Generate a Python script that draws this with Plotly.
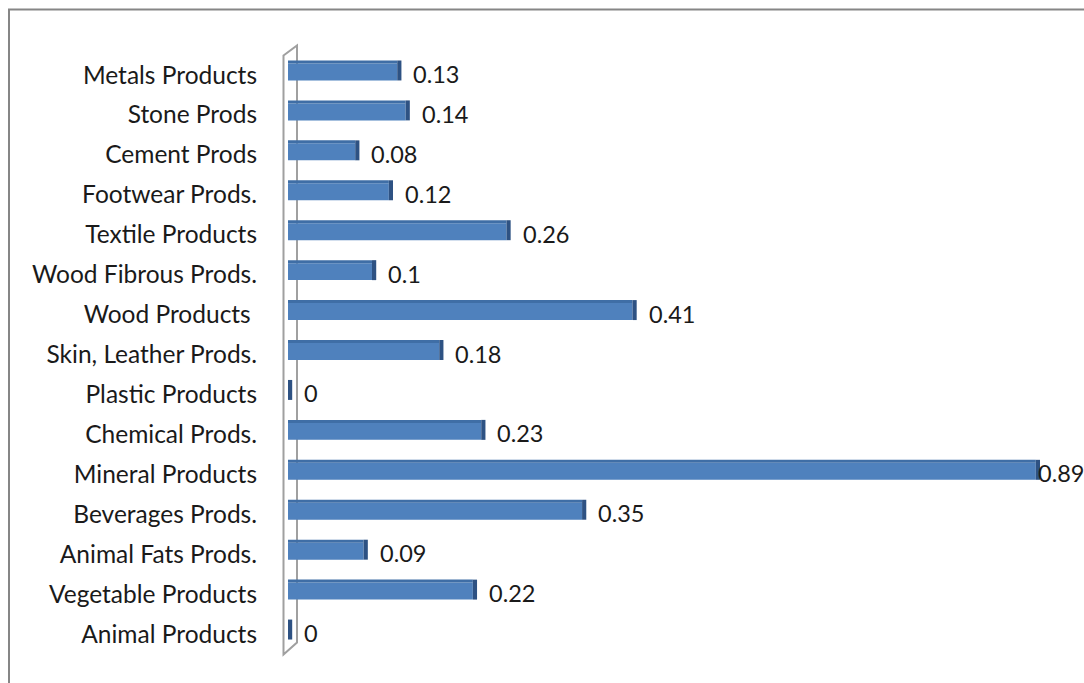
import plotly.graph_objects as go

categories = ["Animal Products", "Vegetable Products", "Animal Fats Prods.", "Beverages Prods.",
              "Mineral Products", "Chemical Prods.", "Plastic Products", "Skin, Leather Prods.",
              "Wood Products ", "Wood Fibrous Prods.", "Textile Products", "Footwear Prods.",
              "Cement Prods", "Stone Prods", "Metals Products"]
values = [0, 0.22, 0.09, 0.35, 0.89, 0.23, 0, 0.18, 0.41, 0.1, 0.26, 0.12, 0.08, 0.14, 0.13]
value_labels = ["0", "0.22", "0.09", "0.35", "0.89", "0.23", "0", "0.18", "0.41", "0.1",
                "0.26", "0.12", "0.08", "0.14", "0.13"]

W, H = 1084, 683
L, R = 288, 1061          # plot area in px
T, B = 54.5, 654.5
XMAX = 0.92
DEPTH = 0.005             # 3-D side depth in value units
FS = 23.5
FS_TICK = 24.5

FRONT = "#4F81BD"
TOP = "#3F6EA6"
SIDE = "#2E5283"

front_w, front_off = 0.425, -0.1375
top_w, top_off = 0.075, 0.2875

fig = go.Figure()
fig.add_trace(go.Bar(y=categories, x=values, orientation="h", width=front_w, offset=front_off,
                     marker=dict(color=FRONT, line=dict(width=0)), hoverinfo="skip"))
fig.add_trace(go.Bar(y=categories, x=values, orientation="h", width=top_w, offset=top_off,
                     marker=dict(color=TOP, line=dict(width=0)), hoverinfo="skip"))
fig.add_trace(go.Bar(y=categories, x=[DEPTH] * len(values), base=values, orientation="h",
                     width=front_w + top_w, offset=front_off,
                     marker=dict(color=SIDE, line=dict(width=0)), hoverinfo="skip"))

px_per_unit = (R - L) / XMAX
annotations = []
for cat, v, t in zip(categories, values, value_labels):
    end_px = L + (v + DEPTH) * px_per_unit
    text_w = len(t) * FS * 0.5
    shift = 10
    if end_px + shift + text_w > W - 1:
        shift = (W - 1) - text_w - end_px
    annotations.append(dict(x=v + DEPTH, y=cat, xref="x", yref="y", text=t, showarrow=False,
                            xanchor="left", yanchor="middle", xshift=shift, yshift=1,
                            font=dict(family="Lato", size=FS, color="#1a1a1a")))


def px_x(p):
    return (p - L) / (R - L)


def px_y(p):
    return (B - p) / (B - T)


shapes = []
shapes.append(dict(type="path", xref="paper", yref="paper",
                   path=f"M {px_x(9)} {px_y(690)} L {px_x(9)} {px_y(9)} L {px_x(1090)} {px_y(9)}",
                   line=dict(color="#868686", width=2), layer="below"))
shapes.append(dict(type="path", xref="paper", yref="paper",
                   path=(f"M {px_x(283.5)} {px_y(55)} L {px_x(297)} {px_y(45)} "
                         f"L {px_x(297)} {px_y(643)} L {px_x(283.5)} {px_y(655)} Z"),
                   line=dict(color="#A0A0A0", width=2), fillcolor="white", layer="below"))

fig.update_layout(
    width=W, height=H,
    margin=dict(l=L, r=W - R, t=T, b=H - B, pad=0),
    paper_bgcolor="white", plot_bgcolor="rgba(0,0,0,0)",
    barmode="overlay", showlegend=False,
    font=dict(family="Lato", size=FS, color="#1a1a1a"),
    shapes=shapes, annotations=annotations,
    xaxis=dict(range=[0, XMAX], visible=False, fixedrange=True),
    yaxis=dict(type="category", range=[-0.5, 14.5], showgrid=False, zeroline=False,
               showline=False, ticks="", ticklabelstandoff=30,
               tickfont=dict(family="Lato", size=FS_TICK, color="#1a1a1a"), fixedrange=True),
)

fig.write_html("out.html", config={"displayModeBar": False})
